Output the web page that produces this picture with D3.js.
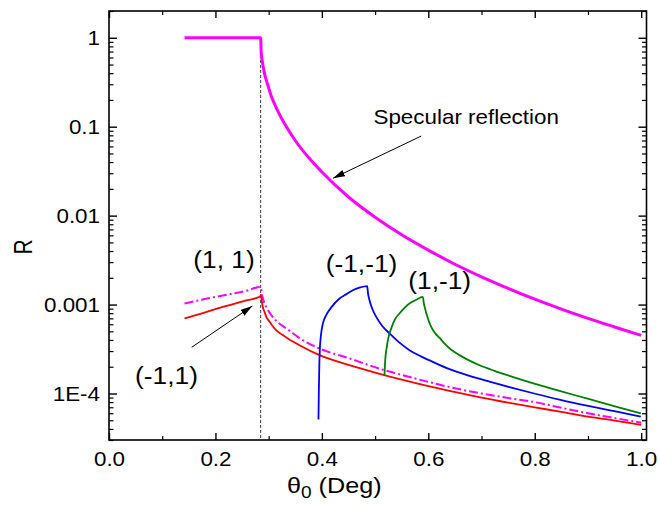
<!DOCTYPE html>
<html><head><meta charset="utf-8">
<script src="https://cdn.jsdelivr.net/npm/d3@7"></script>
<style>
body{margin:0;background:#fff}
svg{display:block}
text{font-family:"Liberation Sans",Arial,Helvetica,sans-serif;fill:#000}
</style>
</head><body>
<svg id="chart" width="658" height="506"></svg>
<script>
// ---- data ----
const specX = [0.142, 0.285, 0.286, 0.288, 0.292, 0.298, 0.305, 0.315, 0.33, 0.35, 0.375, 0.4, 0.45, 0.5, 0.55, 0.6, 0.65, 0.7, 0.75, 0.8, 0.85, 0.9, 0.95, 1.0];
const specY = [1, 1, 0.68, 0.55, 0.40, 0.30, 0.22, 0.16, 0.108, 0.070, 0.045, 0.031, 0.0162, 0.0096, 0.0061, 0.0041, 0.00284, 0.00205, 0.00152, 0.00115, 0.00089, 0.0007, 0.00056, 0.00045];

const m1p1X = [0.142, 0.17, 0.2, 0.23, 0.26, 0.284, 0.2855, 0.287, 0.289, 0.2925, 0.2954, 0.3, 0.305, 0.314, 0.325, 0.336, 0.358, 0.3955, 0.45, 0.5, 0.55, 0.6, 0.65, 0.7, 0.75, 0.8, 0.85, 0.9, 0.95, 1.0];
const m1p1Y = [7.0e-4, 7.8e-4, 8.9e-4, 1.0e-3, 1.12e-3, 1.23e-3, 1.29e-3, 1.1e-3, 9.4e-4, 8.2e-4, 7.3e-4, 6.6e-4, 6.0e-4, 5.15e-4, 4.6e-4, 4.16e-4, 3.49e-4, 2.70e-4, 2.1e-4, 1.72e-4, 1.43e-4, 1.21e-4, 1.04e-4, 9.0e-5, 7.9e-5, 7.0e-5, 6.2e-5, 5.5e-5, 4.95e-5, 4.45e-5];

const p1p1X = [0.142, 0.17, 0.2, 0.23, 0.26, 0.284, 0.2855, 0.288, 0.2925, 0.2954, 0.305, 0.315, 0.339, 0.358, 0.3955, 0.452, 0.515, 0.55, 0.6, 0.64, 0.7, 0.75, 0.8, 0.85, 0.9, 0.95, 1.0];
const p1p1Y = [1.03e-3, 1.12e-3, 1.22e-3, 1.32e-3, 1.44e-3, 1.58e-3, 1.55e-3, 1.25e-3, 1.02e-3, 9.4e-4, 7.6e-4, 6.5e-4, 5.1e-4, 4.2e-4, 3.21e-4, 2.48e-4, 1.85e-4, 1.62e-4, 1.35e-4, 1.18e-4, 1.0e-4, 8.9e-5, 8.0e-5, 6.9e-5, 6.0e-5, 5.3e-5, 4.7e-5];

const m1m1X = [0.3936, 0.3942, 0.395, 0.3961, 0.3983, 0.4021, 0.4081, 0.4181, 0.4331, 0.4463, 0.4581, 0.4707, 0.4852, 0.4867, 0.4895, 0.4951, 0.5021, 0.5139, 0.5271, 0.5458, 0.5646, 0.5853, 0.6084, 0.6398, 0.6774, 0.715, 0.7525, 0.799, 0.8463, 0.9028, 0.9592, 0.9993];
const m1m1Y = [5.1e-5, 9.6e-5, 1.83e-4, 3.07e-4, 4.53e-4, 6.18e-4, 7.6e-4, 9.35e-4, 1.17e-3, 1.31e-3, 1.45e-3, 1.55e-3, 1.61e-3, 1.34e-3, 1.12e-3, 8.87e-4, 7.27e-4, 5.71e-4, 4.73e-4, 3.73e-4, 3.07e-4, 2.63e-4, 2.27e-4, 1.88e-4, 1.58e-4, 1.36e-4, 1.18e-4, 1.0e-4, 8.53e-5, 7.2e-5, 6.16e-5, 5.51e-5];

const p1m1X = [0.5177, 0.519, 0.522, 0.5252, 0.5303, 0.5365, 0.5458, 0.5646, 0.5759, 0.5896, 0.5919, 0.5947, 0.5985, 0.6054, 0.6135, 0.6222, 0.6306, 0.6398, 0.6586, 0.6774, 0.6962, 0.7244, 0.7525, 0.799, 0.8465, 0.9028, 0.9592, 0.9993];
const p1m1Y = [1.61e-4, 2.37e-4, 3.34e-4, 4.3e-4, 5.38e-4, 6.68e-4, 7.94e-4, 1.03e-3, 1.12e-3, 1.22e-3, 1.01e-3, 8.65e-4, 7.22e-4, 5.61e-4, 4.71e-4, 4.16e-4, 3.63e-4, 3.23e-4, 2.70e-4, 2.34e-4, 2.08e-4, 1.80e-4, 1.58e-4, 1.29e-4, 1.07e-4, 8.62e-5, 6.92e-5, 5.96e-5];

const criticalAngle = 0.285;
const criticalTop = 0.73;

const xTickMajor = [0, 0.2, 0.4, 0.6, 0.8, 1.0];
const xTickLabels = ["0.0", "0.2", "0.4", "0.6", "0.8", "1.0"];
const xTickMinor = [0.1, 0.3, 0.5, 0.7, 0.9];
const yTickMajor = [1e-4, 1e-3, 1e-2, 1e-1, 1];
const yTickLabels = ["1E-4", "0.001", "0.01", "0.1", "1"];

const labels = [
  {text: "(1, 1)",   x: 0.2161, y: 2.58e-3, size: 23.5},
  {text: "(-1,1)",   x: 0.108,  y: 1.28e-4, size: 23.5},
  {text: "(-1,-1)",  x: 0.4745, y: 2.32e-3, size: 23.5},
  {text: "(1,-1)",   x: 0.6214, y: 1.50e-3, size: 23.5}
];
const specLabel = {text: "Specular reflection", x: 0.497, y: 0.107};
const arrows = [
  {x1: 0.5868, y1: 0.0786, x2: 0.4209, y2: 0.0263},
  {x1: 0.1554, y1: 3.31e-4, x2: 0.2693, y2: 9.63e-4}
];

// ---- layout ----
const S = 1.12; // horizontal glyph stretch of the original
const svg = d3.select("#chart");
const x = d3.scaleLinear().domain([0, 1.01]).range([109, 646.5]);
const y = d3.scaleLog().domain([3e-5, 2]).range([440, 11]);

const yMinor = [];
[-5, -4, -3, -2, -1, 0].forEach(e => {
  for (let m = 2; m <= 9; m++) {
    const v = m * Math.pow(10, e);
    if (v >= 3e-5 && v <= 2) yMinor.push(v);
  }
});

function clean(g) { g.attr("font-size", null).attr("font-family", null); g.select(".domain").remove(); }

// bottom / top axes
const gxB = svg.append("g").attr("transform", "translate(0,440)")
  .call(d3.axisBottom(x).tickValues(xTickMajor).tickFormat((d, i) => xTickLabels[i]).tickSizeInner(-7).tickSizeOuter(0).tickPadding(0));
clean(gxB);
gxB.selectAll("line").attr("stroke-width", 1.4);
gxB.selectAll("text").attr("y", 26.5).attr("dy", null).style("font-size", "20px").attr("transform", `scale(${S},1)`);
const gxBm = svg.append("g").attr("transform", "translate(0,440)")
  .call(d3.axisBottom(x).tickValues(xTickMinor).tickFormat("").tickSizeInner(-4).tickSizeOuter(0));
clean(gxBm); gxBm.selectAll("line").attr("stroke-width", 1.2);

const gxT = svg.append("g").attr("transform", "translate(0,11)")
  .call(d3.axisTop(x).tickValues(xTickMajor).tickFormat("").tickSizeInner(-7).tickSizeOuter(0));
clean(gxT); gxT.selectAll("line").attr("stroke-width", 1.4);
const gxTm = svg.append("g").attr("transform", "translate(0,11)")
  .call(d3.axisTop(x).tickValues(xTickMinor).tickFormat("").tickSizeInner(-4).tickSizeOuter(0));
clean(gxTm); gxTm.selectAll("line").attr("stroke-width", 1.2);

// left / right axes
const gyL = svg.append("g").attr("transform", "translate(109,0)")
  .call(d3.axisLeft(y).tickValues(yTickMajor).tickFormat((d, i) => yTickLabels[i]).tickSizeInner(-8).tickSizeOuter(0).tickPadding(9));
clean(gyL);
gyL.selectAll("line").attr("stroke-width", 1.4);
gyL.selectAll("text").style("font-size", "20px").attr("dy", "0.35em")
  .attr("transform", `translate(-9,0) scale(${S},1) translate(9,0)`);
const gyLm = svg.append("g").attr("transform", "translate(109,0)")
  .call(d3.axisLeft(y).tickValues(yMinor).tickFormat("").tickSizeInner(-4.5).tickSizeOuter(0));
clean(gyLm); gyLm.selectAll("line").attr("stroke-width", 1.2);

const gyR = svg.append("g").attr("transform", "translate(646.5,0)")
  .call(d3.axisRight(y).tickValues(yTickMajor).tickFormat("").tickSizeInner(-8).tickSizeOuter(0));
clean(gyR); gyR.selectAll("line").attr("stroke-width", 1.4);
const gyRm = svg.append("g").attr("transform", "translate(646.5,0)")
  .call(d3.axisRight(y).tickValues(yMinor).tickFormat("").tickSizeInner(-4.5).tickSizeOuter(0));
clean(gyRm); gyRm.selectAll("line").attr("stroke-width", 1.2);

// frame
svg.append("rect").attr("x", x.range()[0]).attr("y", y.range()[1])
  .attr("width", x.range()[1] - x.range()[0]).attr("height", y.range()[0] - y.range()[1])
  .attr("fill", "none").attr("stroke", "#000").attr("stroke-width", 1.6);

// critical angle dashed line
svg.append("line")
  .attr("x1", x(criticalAngle)).attr("x2", x(criticalAngle))
  .attr("y1", y(criticalTop)).attr("y2", y(3e-5))
  .attr("stroke", "#333").attr("stroke-width", 1).attr("stroke-dasharray", "3,2");

// curves
const line = d3.line().x(d => x(d[0])).y(d => y(d[1])).curve(d3.curveMonotoneX);
const zip = (a, b) => a.map((v, i) => [v, b[i]]);
const series = [
  {xs: p1p1X, ys: p1p1Y, color: "#ff00ff", w: 2, dash: "9,3,2,3"},
  {xs: m1p1X, ys: m1p1Y, color: "#ff0000", w: 1.8, dash: null},
  {xs: m1m1X, ys: m1m1Y, color: "#0000ff", w: 1.8, dash: null},
  {xs: p1m1X, ys: p1m1Y, color: "#008000", w: 1.8, dash: null},
  {xs: specX, ys: specY, color: "#ff00ff", w: 3, dash: null}
];
svg.append("g").selectAll("path").data(series).join("path")
  .attr("d", d => line(zip(d.xs, d.ys)))
  .attr("fill", "none").attr("stroke", d => d.color).attr("stroke-width", d => d.w)
  .attr("stroke-dasharray", d => d.dash).attr("stroke-linejoin", "round");

// arrows
svg.append("defs").append("marker").attr("id", "ah")
  .attr("markerUnits", "userSpaceOnUse").attr("markerWidth", 13).attr("markerHeight", 8)
  .attr("refX", 12).attr("refY", 3.5).attr("orient", "auto")
  .append("path").attr("d", "M0,0 L12,3.5 L0,7 Z").attr("fill", "#000");
svg.append("g").selectAll("line").data(arrows).join("line")
  .attr("x1", d => x(d.x1)).attr("y1", d => y(d.y1))
  .attr("x2", d => x(d.x2)).attr("y2", d => y(d.y2))
  .attr("stroke", "#000").attr("stroke-width", 1).attr("marker-end", "url(#ah)");

// labels
svg.append("g").selectAll("text").data(labels).join("text")
  .attr("text-anchor", "middle").style("font-size", d => d.size + "px")
  .attr("transform", d => `translate(${x(d.x)},${y(d.y)}) scale(${S},1)`)
  .text(d => d.text);
svg.append("text").style("font-size", "20px")
  .attr("transform", `translate(${x(specLabel.x)},${y(specLabel.y)}) scale(${S},1)`)
  .text(specLabel.text);

// axis titles
svg.append("text").attr("text-anchor", "middle").style("font-size", "21px")
  .attr("transform", "translate(32,247) rotate(-90) scale(1,1.2)").text("R");
const xt = svg.append("text").style("font-size", "22.5px")
  .attr("transform", `translate(287,493) scale(${S},1)`);
xt.append("tspan").text("θ");
xt.append("tspan").style("font-size", "17px").attr("dy", 5).text("0");
xt.append("tspan").attr("dy", -5).text(" (Deg)");
</script>
</body></html>
